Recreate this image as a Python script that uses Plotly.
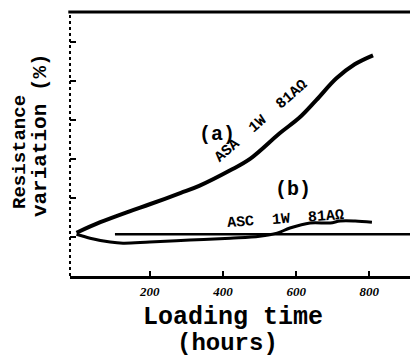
import plotly.graph_objects as go

# Data
hours_a = [0, 65, 145, 200, 285, 335, 420, 475, 555, 610, 655, 710, 760, 810]
resist_a = [0.10, 0.37, 0.65, 0.83, 1.12, 1.30, 1.70, 2.00, 2.65, 3.06, 3.50, 4.06, 4.42, 4.65]

hours_b = [0, 37, 92, 127, 200, 310, 420, 500, 548, 583, 638, 693, 720, 761, 807]
resist_b = [0.06, -0.04, -0.14, -0.17, -0.14, -0.09, -0.04, 0.01, 0.09, 0.22, 0.35, 0.35, 0.40, 0.40, 0.37]

hours_base = [105, 915]
resist_base = [0.06, 0.06]

x_ticks = [200, 400, 600, 800]
x_tick_labels = ["200", "400", "600", "800"]
y_ticks = [0, 1, 2, 3, 4, 5]

MONO = "Liberation Mono"

fig = go.Figure()
fig.add_trace(go.Scatter(x=hours_base, y=resist_base, mode="lines",
                         line=dict(color="black", width=2.5), hoverinfo="skip"))
fig.add_trace(go.Scatter(x=hours_b, y=resist_b, mode="lines",
                         line=dict(color="black", width=3, shape="spline"), hoverinfo="skip"))
fig.add_trace(go.Scatter(x=hours_a, y=resist_a, mode="lines",
                         line=dict(color="black", width=4, shape="spline"), hoverinfo="skip"))

fig.update_layout(
    width=410, height=356,
    margin=dict(l=70, r=0, t=12, b=80),
    paper_bgcolor="white", plot_bgcolor="white",
    showlegend=False,
    xaxis=dict(range=[-17.8, 911], tickvals=x_ticks, ticktext=x_tick_labels,
               ticks="inside", ticklen=5, tickwidth=2, tickcolor="black",
               ticklabelstandoff=1,
               showgrid=False, zeroline=False, showline=True, linecolor="black", linewidth=3,
               tickfont=dict(family="Liberation Serif", size=13, color="black", style="italic", weight="bold")),
    yaxis=dict(range=[-1.01, 5.76], tickvals=y_ticks, showticklabels=False,
               ticks="inside", ticklen=6, tickwidth=2, tickcolor="black",
               showgrid=False, zeroline=False, showline=False),
)

# top border and dotted left axis
fig.add_shape(type="line", xref="paper", yref="paper", x0=-0.005, x1=1, y0=1, y1=1,
              line=dict(color="black", width=3))
fig.add_shape(type="line", xref="paper", yref="paper", x0=0, x1=0, y0=0, y1=1,
              line=dict(color="black", width=2, dash="dot"))

# axis titles
fig.add_annotation(text="<b>Loading time</b>", xref="paper", yref="paper", x=0.479, y=-0.155,
                   showarrow=False, xanchor="center", yanchor="middle", height=24,
                   font=dict(family=MONO, size=25, color="black"))
fig.add_annotation(text="<b>(hours)</b>", xref="paper", yref="paper", x=0.462, y=-0.252,
                   showarrow=False, xanchor="center", yanchor="middle", height=24,
                   font=dict(family=MONO, size=24, color="black"))
fig.add_annotation(text="<b>Resistance</b>", xref="paper", yref="paper", x=-0.147, y=0.47,
                   showarrow=False, textangle=-90, xanchor="center", yanchor="middle",
                   font=dict(family=MONO, size=19, color="black"))
fig.add_annotation(text="<b>variation (%)</b>", xref="paper", yref="paper", x=-0.088, y=0.534,
                   showarrow=False, textangle=-90, xanchor="center", yanchor="middle",
                   font=dict(family=MONO, size=21, color="black"))

# curve labels
fig.add_annotation(text="<b>(a)</b>", x=384, y=2.63, showarrow=False,
                   font=dict(family=MONO, size=20, color="black"))
fig.add_annotation(text="<b>(b)</b>", x=591, y=1.22, showarrow=False,
                   font=dict(family=MONO, size=20, color="black"))
fig.add_annotation(text="<b>ASA  1W  81AΩ</b>", x=505, y=2.95, showarrow=False, textangle=-41,
                   font=dict(family=MONO, size=15, color="black"))
fig.add_annotation(text="<b>ASC  1W  81AΩ</b>", x=570, y=0.45, showarrow=False, textangle=-4,
                   font=dict(family=MONO, size=15, color="black"))

fig.write_html("out.html")
